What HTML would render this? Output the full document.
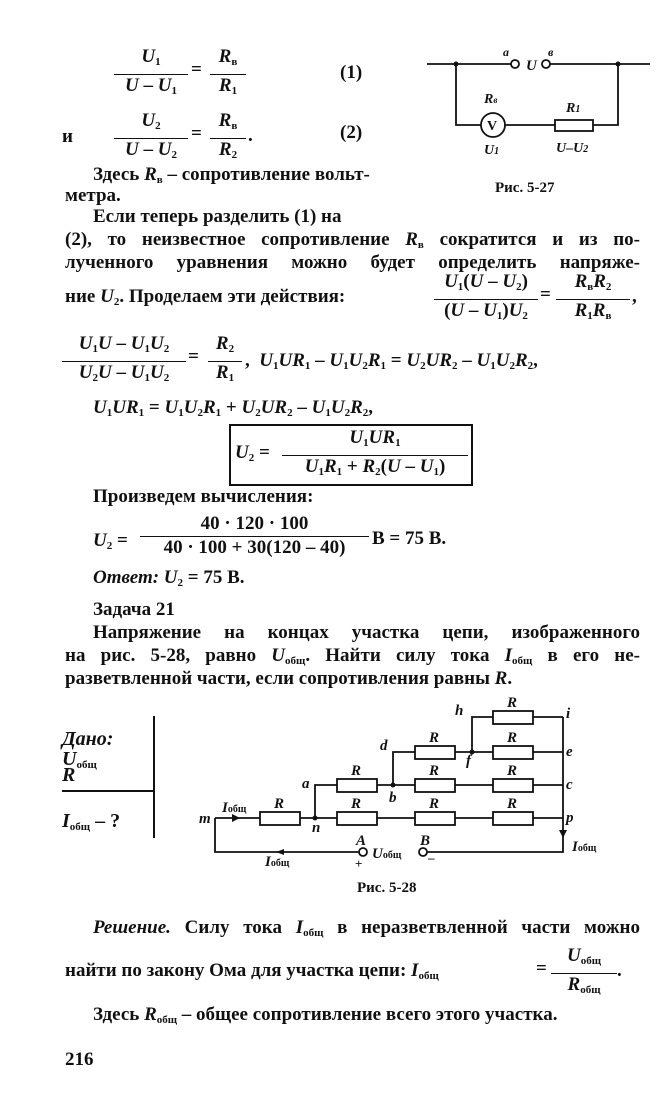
<!DOCTYPE html>
<html><head><meta charset="utf-8"><style>
body{margin:0;width:668px;height:1104px;background:#fff;position:relative;overflow:hidden;font-family:"Liberation Serif",serif;font-weight:bold;font-size:19px;color:#111}
.a{position:absolute;white-space:nowrap;line-height:22px}
.j{position:absolute;text-align:justify;text-align-last:justify;line-height:22px;white-space:nowrap}
i{font-style:italic}
sub{font-size:11px;vertical-align:-3px}
.fr{position:absolute;display:inline-flex;flex-direction:column;align-items:center;line-height:22px}
.fr span:first-child{border-bottom:1.6px solid #111;padding:0 2px 1px}
.fr span{width:100%;text-align:center;white-space:nowrap}
</style></head><body>

<!-- eq 1 -->
<div class="fr" style="left:116px;top:46px;width:70px"><span><i>U</i><sub>1</sub></span><span><i>U</i> – <i>U</i><sub>1</sub></span></div>
<div class="a" style="left:191px;top:59px">=</div>
<div class="fr" style="left:212px;top:46px;width:32px"><span><i>R</i><sub>в</sub></span><span><i>R</i><sub>1</sub></span></div>
<div class="a" style="left:340px;top:62px">(1)</div>

<div class="a" style="left:62px;top:126px">и</div>
<div class="fr" style="left:116px;top:110px;width:70px"><span><i>U</i><sub>2</sub></span><span><i>U</i> – <i>U</i><sub>2</sub></span></div>
<div class="a" style="left:191px;top:123px">=</div>
<div class="fr" style="left:212px;top:110px;width:32px"><span><i>R</i><sub>в</sub></span><span><i>R</i><sub>2</sub></span></div>
<div class="a" style="left:248px;top:125px">.</div>
<div class="a" style="left:340px;top:122px">(2)</div>

<div class="a" style="left:93px;top:164px">Здесь <i>R</i><sub>в</sub> – сопротивление вольт-</div>
<div class="a" style="left:65px;top:185px">метра.</div>

<!-- fig 5-27 -->
<svg style="position:absolute;left:0;top:0" width="668" height="1104">
<g stroke="#111" stroke-width="1.8" fill="none">
<path d="M427 64H511M550 64H650M456 64V125H481M505 125H555M593 125H618V64"/>
<circle cx="515" cy="64" r="4" fill="#fff"/><circle cx="546" cy="64" r="4" fill="#fff"/>
<circle cx="493" cy="125" r="12" fill="#fff"/>
<rect x="555" y="120" width="38" height="11" fill="#fff"/>
</g>
<circle cx="456" cy="64" r="2.5" fill="#111"/><circle cx="618" cy="64" r="2.5" fill="#111"/>
<g font-family="Liberation Serif" font-weight="bold" font-size="14" fill="#111">
<text x="487" y="130" font-style="normal">V</text>
<text x="503" y="56" font-style="italic" font-size="12">a</text>
<text x="526" y="70" font-style="italic" font-size="15">U</text>
<text x="548" y="56" font-style="italic" font-size="12">в</text>
<text x="484" y="103" font-style="italic">R<tspan font-size="9">в</tspan></text>
<text x="566" y="112" font-style="italic">R<tspan font-size="10">1</tspan></text>
<text x="484" y="154" font-style="italic">U<tspan font-size="10">1</tspan></text>
<text x="556" y="152" font-style="italic">U–U<tspan font-size="10">2</tspan></text>
<text x="495" y="192" font-size="15">Рис. 5-27</text>
</g>
</svg>

<div class="a" style="left:93px;top:206px">Если теперь разделить (1) на</div>
<div class="j" style="left:65px;top:229px;width:575px">(2), то неизвестное сопротивление <i>R</i><sub>в</sub> сократится и из по-</div>
<div class="j" style="left:65px;top:252px;width:575px">лученного уравнения можно будет определить напряже-</div>
<div class="a" style="left:65px;top:286px">ние <i>U</i><sub>2</sub>. Проделаем эти действия:</div>
<div class="fr" style="left:436px;top:271px;width:100px"><span><i>U</i><sub>1</sub>(<i>U</i> – <i>U</i><sub>2</sub>)</span><span>(<i>U</i> – <i>U</i><sub>1</sub>)<i>U</i><sub>2</sub></span></div>
<div class="a" style="left:540px;top:284px">=</div>
<div class="fr" style="left:558px;top:271px;width:70px"><span><i>R</i><sub>в</sub><i>R</i><sub>2</sub></span><span><i>R</i><sub>1</sub><i>R</i><sub>в</sub></span></div>
<div class="a" style="left:632px;top:286px">,</div>

<div class="fr" style="left:64px;top:333px;width:120px"><span><i>U</i><sub>1</sub><i>U</i> – <i>U</i><sub>1</sub><i>U</i><sub>2</sub></span><span><i>U</i><sub>2</sub><i>U</i> – <i>U</i><sub>1</sub><i>U</i><sub>2</sub></span></div>
<div class="a" style="left:188px;top:346px">=</div>
<div class="fr" style="left:210px;top:333px;width:30px"><span><i>R</i><sub>2</sub></span><span><i>R</i><sub>1</sub></span></div>
<div class="a" style="left:245px;top:350px">, &nbsp;<i>U</i><sub>1</sub><i>UR</i><sub>1</sub> – <i>U</i><sub>1</sub><i>U</i><sub>2</sub><i>R</i><sub>1</sub> = <i>U</i><sub>2</sub><i>UR</i><sub>2</sub> – <i>U</i><sub>1</sub><i>U</i><sub>2</sub><i>R</i><sub>2</sub>,</div>
<div class="a" style="left:93px;top:397px"><i>U</i><sub>1</sub><i>UR</i><sub>1</sub> = <i>U</i><sub>1</sub><i>U</i><sub>2</sub><i>R</i><sub>1</sub> + <i>U</i><sub>2</sub><i>UR</i><sub>2</sub> – <i>U</i><sub>1</sub><i>U</i><sub>2</sub><i>R</i><sub>2</sub>,</div>

<div style="position:absolute;left:229px;top:424px;width:240px;height:58px;border:2px solid #111"></div>
<div class="a" style="left:235px;top:442px"><i>U</i><sub>2</sub> =</div>
<div class="fr" style="left:284px;top:427px;width:182px"><span><i>U</i><sub>1</sub><i>UR</i><sub>1</sub></span><span><i>U</i><sub>1</sub><i>R</i><sub>1</sub> + <i>R</i><sub>2</sub>(<i>U</i> – <i>U</i><sub>1</sub>)</span></div>

<div class="a" style="left:93px;top:486px">Произведем вычисления:</div>
<div class="a" style="left:93px;top:530px"><i>U</i><sub>2</sub> =</div>
<div class="fr" style="left:142px;top:513px;width:225px"><span>40 · 120 · 100</span><span>40 · 100 + 30(120 – 40)</span></div>
<div class="a" style="left:372px;top:528px">В = 75 В.</div>
<div class="a" style="left:93px;top:567px"><i>Ответ:</i> <i>U</i><sub>2</sub> = 75 В.</div>

<div class="a" style="left:93px;top:599px">Задача 21</div>
<div class="j" style="left:93px;top:622px;width:547px">Напряжение на концах участка цепи, изображенного</div>
<div class="j" style="left:65px;top:645px;width:575px">на рис. 5-28, равно <i>U</i><sub>общ</sub>. Найти силу тока <i>I</i><sub>общ</sub> в его не-</div>
<div class="a" style="left:65px;top:668px">разветвленной части, если сопротивления равны <i>R</i>.</div>

<!-- Дано -->
<div class="a" style="left:62px;top:728px;font-style:italic;font-size:20px">Дано:</div>
<div class="a" style="left:62px;top:748px;font-style:italic;font-size:20px">U<sub style="font-style:normal">общ</sub></div>
<div class="a" style="left:62px;top:764px;font-style:italic;font-size:20px">R</div>
<div style="position:absolute;left:62px;top:790px;width:92px;height:2px;background:#111"></div>
<div style="position:absolute;left:153px;top:716px;width:2px;height:122px;background:#111"></div>
<div class="a" style="left:62px;top:810px;font-style:italic;font-size:20px">I<sub style="font-style:normal">общ</sub> <span style="font-style:normal">– ?</span></div>

<!-- fig 5-28 -->
<svg style="position:absolute;left:0;top:0" width="668" height="1104">
<g stroke="#111" stroke-width="1.8" fill="none">
<path d="M215 818V852H359M367 852V852M427 852H563V717"/>
<path d="M215 818H315M315 818V785H393M315 818H563M393 785H563M393 785V752H563M472 752V717H563"/>
<g fill="#fff">
<rect x="260" y="812" width="40" height="13"/>
<rect x="337" y="812" width="40" height="13"/><rect x="415" y="812" width="40" height="13"/><rect x="493" y="812" width="40" height="13"/>
<rect x="337" y="779" width="40" height="13"/><rect x="415" y="779" width="40" height="13"/><rect x="493" y="779" width="40" height="13"/>
<rect x="415" y="746" width="40" height="13"/><rect x="493" y="746" width="40" height="13"/>
<rect x="493" y="711" width="40" height="13"/>
<circle cx="363" cy="852" r="4"/><circle cx="423" cy="852" r="4"/>
</g>
</g>
<g fill="#111">
<circle cx="315" cy="818" r="2.5"/><circle cx="393" cy="785" r="2.5"/><circle cx="472" cy="752" r="2.5"/>
<path d="M232 814L240 818L232 822Z"/><path d="M284 852L276 849L276 855Z" transform="rotate(180 280 852)"/>
<path d="M559 830L563 838L567 830Z"/>
</g>
<g font-family="Liberation Serif" font-weight="bold" font-style="italic" font-size="15" fill="#111">
<text x="274" y="808">R</text>
<text x="351" y="775">R</text><text x="351" y="808">R</text>
<text x="429" y="742">R</text><text x="429" y="775">R</text><text x="429" y="808">R</text>
<text x="507" y="707">R</text><text x="507" y="742">R</text><text x="507" y="775">R</text><text x="507" y="808">R</text>
<text x="455" y="715">h</text><text x="566" y="718">i</text>
<text x="380" y="750">d</text><text x="566" y="756">e</text>
<text x="466" y="765">f</text>
<text x="302" y="788">a</text><text x="389" y="802">b</text><text x="566" y="789">c</text>
<text x="199" y="823">m</text><text x="312" y="832">n</text><text x="566" y="822">p</text>
<text x="356" y="845">A</text><text x="420" y="845">B</text>
<text x="222" y="812">I<tspan font-style="normal" font-size="10">общ</tspan></text>
<text x="265" y="866">I<tspan font-style="normal" font-size="10">общ</tspan></text>
<text x="572" y="851">I<tspan font-style="normal" font-size="10">общ</tspan></text>
<text x="372" y="858">U<tspan font-style="normal" font-size="10">общ</tspan></text>
<text x="355" y="868" font-style="normal" font-size="13">+</text>
<text x="428" y="862" font-style="normal" font-size="13">–</text>
<text x="357" y="892" font-style="normal" font-size="15">Рис. 5-28</text>
</g>
</svg>

<div class="j" style="left:93px;top:917px;width:547px"><i>Решение.</i> Силу тока <i>I</i><sub>общ</sub> в неразветвленной части можно</div>
<div class="a" style="left:65px;top:960px">найти по закону Ома для участка цепи: <i>I</i><sub>общ</sub></div>
<div class="a" style="left:536px;top:958px">=</div>
<div class="fr" style="left:553px;top:945px;width:62px"><span><i>U</i><sub>общ</sub></span><span><i>R</i><sub>общ</sub></span></div>
<div class="a" style="left:617px;top:960px">.</div>
<div class="a" style="left:93px;top:1004px">Здесь <i>R</i><sub>общ</sub> – общее сопротивление всего этого участка.</div>
<div class="a" style="left:65px;top:1049px">216</div>
</body></html>
